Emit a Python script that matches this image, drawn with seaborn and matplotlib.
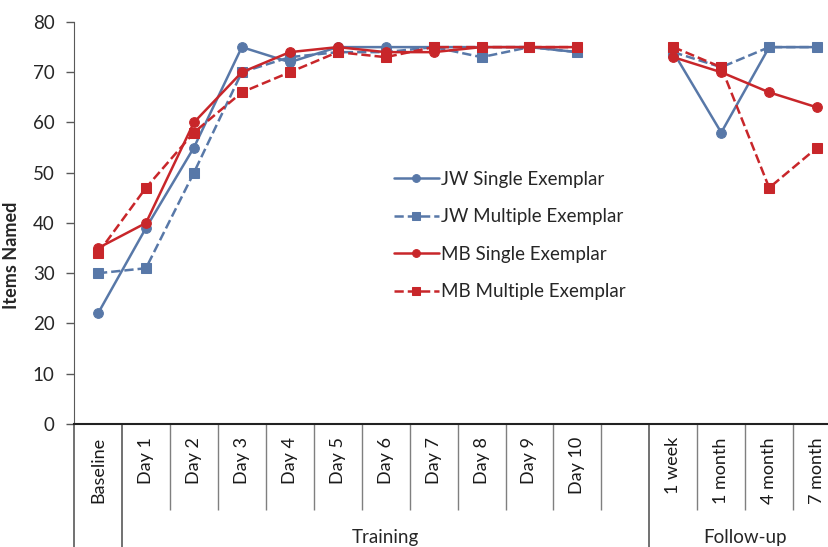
import numpy as np
import pandas as pd
import matplotlib.pyplot as plt
import seaborn as sns

# categories on the x axis (empty slot separates training from follow-up)
categories = ['Baseline', 'Day 1', 'Day 2', 'Day 3', 'Day 4', 'Day 5', 'Day 6', 'Day 7',
              'Day 8', 'Day 9', 'Day 10', '', '1 week', '1 month', '4 month', '7 month']
phases = ['Training', 'Follow-up']

# values (None = no point)
jw_single = [22, 39, 55, 75, 72, 75, 75, 75, 75, 75, 74, None, 74, 58, 75, 75]
jw_multiple = [30, 31, 50, 70, 73, 74, 74, 75, 73, 75, 74, None, 74, 71, 75, 75]
mb_single = [35, 40, 60, 70, 74, 75, 74, 74, 75, 75, 75, None, 73, 70, 66, 63]
mb_multiple = [34, 47, 58, 66, 70, 74, 73, 75, 75, 75, 75, None, 75, 71, 47, 55]

series = {
    'JW Single Exemplar': jw_single,
    'JW Multiple Exemplar': jw_multiple,
    'MB Single Exemplar': mb_single,
    'MB Multiple Exemplar': mb_multiple,
}
styles = {
    'JW Single Exemplar': dict(color='#5878a8', marker='o', linestyle='-'),
    'JW Multiple Exemplar': dict(color='#5878a8', marker='s', linestyle='--'),
    'MB Single Exemplar': dict(color='#c8262a', marker='o', linestyle='-'),
    'MB Multiple Exemplar': dict(color='#c8262a', marker='s', linestyle='--'),
}

rows = []
for name, vals in series.items():
    for i, (cat, v) in enumerate(zip(categories, vals)):
        if v is None:
            continue
        rows.append(dict(series=name, pos=i, value=v,
                         phase='train' if i < 11 else 'follow'))
df = pd.DataFrame(rows)

sns.set_style('white')
plt.rcParams['font.family'] = ['Lato', 'DejaVu Sans']

fig = plt.figure(figsize=(8.29, 5.47), dpi=100)
ax = fig.add_axes([0.0893, 0.2249, 0.9253, 0.7349])

for name in series:
    st = styles[name]
    for ph in ['train', 'follow']:
        sub = df[(df.series == name) & (df.phase == ph)]
        sns.lineplot(data=sub, x='pos', y='value', ax=ax, color=st['color'],
                     marker=st['marker'], linestyle=st['linestyle'], markersize=7,
                     markeredgecolor=st['color'], linewidth=1.8,
                     label=name if ph == 'train' else None, legend=False)

ax.set_xlim(-0.5, len(categories) - 0.5)
ax.set_ylim(0, 80)
ax.set_yticks(range(0, 81, 10))
ax.tick_params(axis='y', direction='out', length=6, width=1, color='#595959',
               labelsize=13.5, pad=8, left=True)
ax.set_xticks([])
ax.set_xlabel('')
ax.set_ylabel('Items Named', fontsize=13, fontweight='bold')
ax.yaxis.set_label_coords(-0.07, 0.42)

for s in ['top', 'right']:
    ax.spines[s].set_visible(False)
ax.spines['left'].set_color('#595959')
ax.spines['bottom'].set_color('#222222')
ax.spines['bottom'].set_linewidth(1.5)

# category labels and separators below the axis
tr = ax.get_xaxis_transform()
for i, cat in enumerate(categories):
    ax.text(i, -0.033, cat, rotation=90, ha='center', va='top', fontsize=13,
            transform=tr, color='#1a1a1a')
short_seps = [i + 0.5 for i in range(1, len(categories) - 1) if i not in (0, 11)]
long_seps = [-0.5, 0.5, 11.5]
ax.vlines(short_seps, -0.214, 0, transform=tr, clip_on=False, color='#7f7f7f', lw=1)
ax.vlines(long_seps, -0.31, 0, transform=tr, clip_on=False, color='#595959', lw=1.2)

# group labels
ax.text(6, -0.283, phases[0], ha='center', va='center', fontsize=13.5, transform=tr)
ax.text(13.5, -0.283, phases[1], ha='center', va='center', fontsize=13.5, transform=tr)

ax.legend(loc='upper left', bbox_to_anchor=(0.466, 0.702), bbox_transform=fig.transFigure,
          frameon=False, fontsize=13.5, handlelength=2.4, handletextpad=0.1,
          labelspacing=1.1, markerscale=0.8, borderaxespad=0)

fig.savefig('out.png', dpi=100)
